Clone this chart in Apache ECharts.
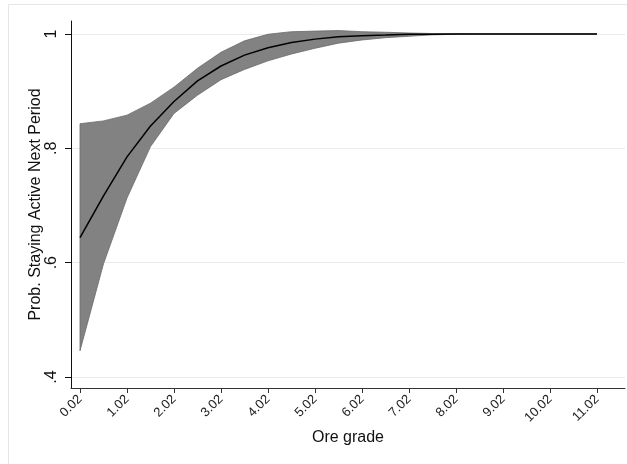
<!DOCTYPE html>
<html>
<head>
<meta charset="utf-8">
<script src="https://cdn.jsdelivr.net/npm/echarts@6/dist/echarts.min.js"></script>
<style>html,body{margin:0;padding:0;background:#fff;}#c{width:627px;height:464px;}</style>
</head>
<body>
<div id="c"></div>
<script>
var oreGrade = [0.02,0.52,1.02,1.52,2.02,2.52,3.02,3.52,4.02,4.52,5.02,5.52,6.02,6.52,7.02,7.52,8.02,8.52,9.02,9.52,10.02,10.52,11.02];
var probMean = [0.644,0.717,0.785,0.839,0.882,0.918,0.944,0.963,0.976,0.985,0.991,0.995,0.997,0.998,0.9994,0.9997,0.9999,1,1,1,1,1,1];
var probLower = [0.446,0.598,0.713,0.803,0.861,0.893,0.920,0.938,0.953,0.965,0.975,0.984,0.9895,0.9935,0.996,0.9985,0.9994,0.9998,1,1,1,1,1];
var probUpper = [0.843,0.848,0.858,0.879,0.907,0.940,0.968,0.988,0.9995,1.004,1.005,1.006,1.004,1.003,1.0017,1.0008,1.0003,1.0001,1,1,1,1,1];
var xTicks = [0.02,1.02,2.02,3.02,4.02,5.02,6.02,7.02,8.02,9.02,10.02,11.02];
var xTickLabels = ["0.02","1.02","2.02","3.02","4.02","5.02","6.02","7.02","8.02","9.02","10.02","11.02"];
var yTicks = [0.4,0.6,0.8,1];
var yTickLabels = [".4",".6",".8","1"];

var FONT = "'Liberation Sans', Arial, sans-serif";
var chart = echarts.init(document.getElementById('c'), null, {renderer:'canvas'});

var bandData = oreGrade.map(function(x,i){return [x, probLower[i], probUpper[i]];});
var meanData = oreGrade.map(function(x,i){return [x, probMean[i]];});

chart.setOption({
  animation:false,
  backgroundColor:'#fff',
  graphic:[{type:'rect', z:-1, silent:true, shape:{x:8.5,y:4.5,width:700,height:600}, style:{fill:'#fff', stroke:'#e6e6e6', lineWidth:1}}],
  grid:{left:71, right:2, top:21, bottom:76, containLabel:false},
  xAxis:{
    type:'value', min:-0.1715, max:11.616,
    name:'Ore grade', nameLocation:'middle', nameGap:42, nameMoveOverlap:false,
    nameTextStyle:{fontFamily:FONT, fontSize:16, color:'#111'},
    axisLine:{show:true, onZero:false, lineStyle:{color:'#333', width:1}},
    axisTick:{show:true, length:5, customValues:xTicks, lineStyle:{color:'#333'}},
    axisLabel:{customValues:xTicks, rotate:45, margin:9, fontFamily:FONT, fontSize:13, color:'#222',
      formatter:function(v){var i=xTicks.indexOf(v); return i>=0?xTickLabels[i]:'';}},
    splitLine:{show:false}
  },
  yAxis:{
    type:'value', min:0.3808, max:1.0227,
    name:'Prob. Staying Active Next Period', nameLocation:'middle', nameGap:27, nameMoveOverlap:false,
    nameTextStyle:{fontFamily:FONT, fontSize:16, color:'#111'},
    axisLine:{show:true, onZero:false, lineStyle:{color:'#111', width:1}},
    axisTick:{show:true, length:6, customValues:yTicks, lineStyle:{color:'#111'}},
    axisLabel:{customValues:yTicks, rotate:90, margin:11, fontFamily:FONT, fontSize:16, color:'#111',
      formatter:function(v){for(var i=0;i<yTicks.length;i++){if(Math.abs(yTicks[i]-v)<1e-6)return yTickLabels[i];}return '';}},
    splitLine:{show:true, lineStyle:{color:'#ebebeb', width:1}}
  },
  series:[
    {
      type:'custom', data:bandData, clip:true, z:2,
      renderItem:function(params, api){
        if(params.dataIndex!==0) return null;
        var pts=[];
        for(var i=0;i<bandData.length;i++) pts.push(api.coord([bandData[i][0], bandData[i][2]]));
        for(var j=bandData.length-1;j>=0;j--) pts.push(api.coord([bandData[j][0], bandData[j][1]]));
        return {type:'polygon', shape:{points:pts}, style:{fill:'#828282', stroke:'#6a6a6a', lineWidth:0.8}};
      },
      encode:{x:0, y:[1,2]}
    },
    {
      type:'line', data:meanData, showSymbol:false, symbol:'none', z:3,
      lineStyle:{color:'#000', width:1.5}
    }
  ]
});
</script>
</body>
</html>
